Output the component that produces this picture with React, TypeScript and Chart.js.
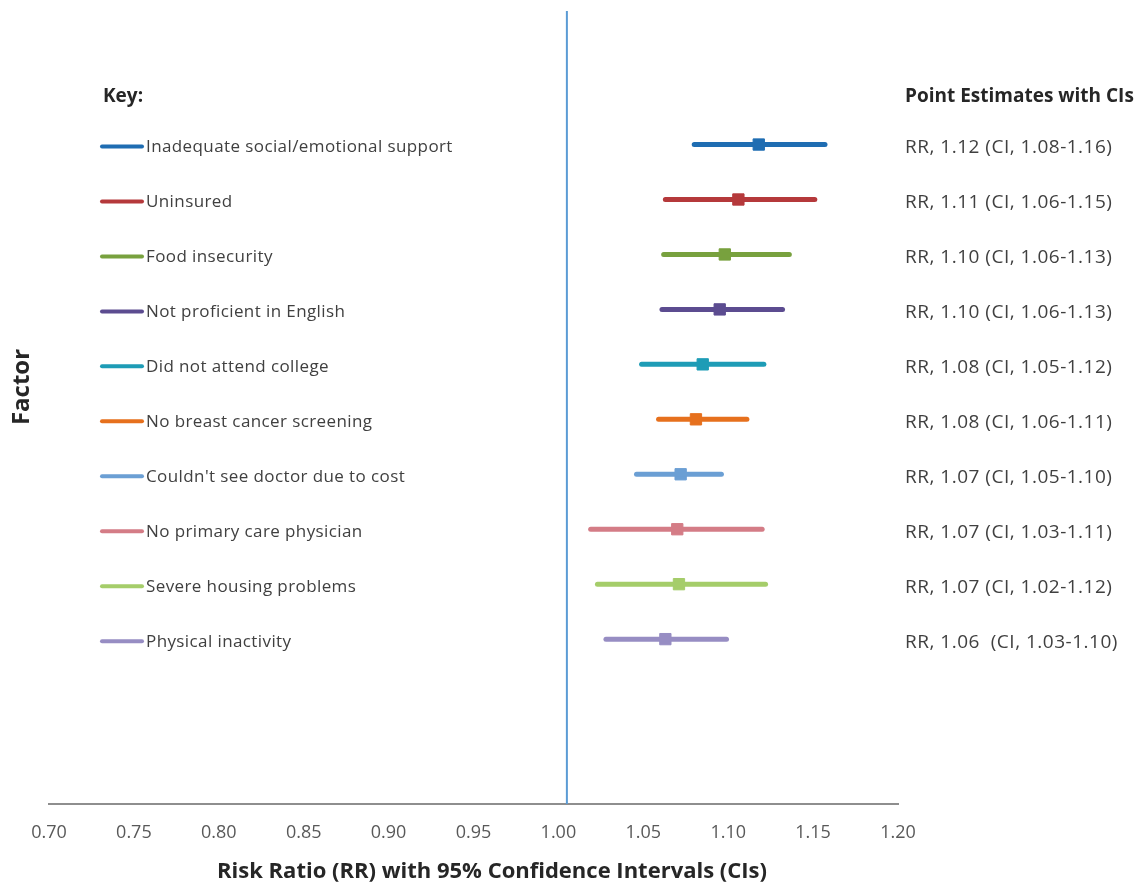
import React, { useEffect, useRef } from 'react';
import { Chart, registerables } from 'chart.js';

Chart.register(...registerables);

const factors = [
  'Inadequate social/emotional support',
  'Uninsured',
  'Food insecurity',
  'Not proficient in English',
  'Did not attend college',
  'No breast cancer screening',
  "Couldn't see doctor due to cost",
  'No primary care physician',
  'Severe housing problems',
  'Physical inactivity',
];
const rowPositions = [12, 11, 10, 9, 8, 7, 6, 5, 4, 3];
const estimates = [1.118, 1.106, 1.098, 1.095, 1.085, 1.081, 1.072, 1.070, 1.071, 1.063];
const lowerCI = [1.080, 1.063, 1.062, 1.061, 1.049, 1.059, 1.046, 1.019, 1.023, 1.028];
const upperCI = [1.157, 1.151, 1.136, 1.132, 1.121, 1.111, 1.096, 1.120, 1.122, 1.099];
const estimateLabels = [
  'RR, 1.12 (CI, 1.08-1.16)',
  'RR, 1.11 (CI, 1.06-1.15)',
  'RR, 1.10 (CI, 1.06-1.13)',
  'RR, 1.10 (CI, 1.06-1.13)',
  'RR, 1.08 (CI, 1.05-1.12)',
  'RR, 1.08 (CI, 1.06-1.11)',
  'RR, 1.07 (CI, 1.05-1.10)',
  'RR, 1.07 (CI, 1.03-1.11)',
  'RR, 1.07 (CI, 1.02-1.12)',
  'RR, 1.06  (CI, 1.03-1.10)',
];
const colors = [
  '#1F6DB2',
  '#B5393B',
  '#78A13E',
  '#5C4C90',
  '#1E9CB6',
  '#E6701D',
  '#6B9FD4',
  '#D47C86',
  '#A5CD6A',
  '#978DC3',
];
const xMin = 0.7;
const xMax = 1.2;
const xStep = 0.05;
const yMin = 0;
const yMax = 14.43;
const referenceValue = 1.005;
const xTitle = 'Risk Ratio (RR) with 95% Confidence Intervals (CIs)';
const yTitle = 'Factor';
const keyTitle = 'Key:';
const estimatesTitle = 'Point Estimates with CIs';

const FONT = "'Open Sans', 'DejaVu Sans', sans-serif";

export default function App() {
  const canvasRef = useRef<HTMLCanvasElement>(null);

  useEffect(() => {
    const canvas = canvasRef.current;
    if (!canvas) return;

    const textPlugin = {
      id: 'forestText',
      afterDraw(chart: any) {
        const c = chart.ctx;
        const ys = chart.scales.y;
        c.save();
        c.textBaseline = 'middle';
        c.textAlign = 'left';
        // Key title and right header
        c.fillStyle = '#262626';
        c.font = `bold 19px ${FONT}`;
        c.letterSpacing = '0px';
        c.fillText(keyTitle, 103, 97);
        c.fillText(estimatesTitle, 905, 97);
        // Key entries and estimate labels
        factors.forEach((f, i) => {
          const py = ys.getPixelForValue(rowPositions[i]);
          c.strokeStyle = colors[i];
          c.lineWidth = 4;
          c.lineCap = 'round';
          c.beginPath();
          c.moveTo(102, py + 2);
          c.lineTo(142, py + 2);
          c.stroke();
          c.fillStyle = '#404040';
          c.font = `17px ${FONT}`;
          c.letterSpacing = '0.4px';
          c.fillText(f, 146, py + 3);
          c.font = `19px ${FONT}`;
          c.letterSpacing = '0.5px';
          c.fillText(estimateLabels[i], 905, py + 3);
        });
        c.letterSpacing = '0px';
        // X title
        c.fillStyle = '#262626';
        c.font = `bold 22px ${FONT}`;
        c.textAlign = 'center';
        c.fillText(xTitle, 492, 872);
        // Y title
        c.save();
        c.translate(22, 387);
        c.rotate(-Math.PI / 2);
        c.font = `bold 24px ${FONT}`;
        c.fillText(yTitle, 0, 0);
        c.restore();
        c.restore();
      },
    };

    const datasets: any[] = [
      {
        label: 'Reference',
        data: [
          { x: referenceValue, y: yMin },
          { x: referenceValue, y: yMax },
        ],
        showLine: true,
        borderColor: '#5B9BD5',
        borderWidth: 2,
        pointRadius: 0,
      },
      ...factors.map((f, i) => ({
        label: f,
        data: [
          { x: lowerCI[i], y: rowPositions[i] },
          { x: upperCI[i], y: rowPositions[i] },
        ],
        showLine: true,
        borderColor: colors[i],
        borderWidth: 5,
        borderCapStyle: 'round',
        pointRadius: 0,
      })),
      {
        label: 'Point estimates',
        data: estimates.map((e, i) => ({ x: e, y: rowPositions[i] })),
        showLine: false,
        pointStyle: 'rect',
        pointRadius: 8,
        backgroundColor: colors,
        borderColor: colors,
        borderWidth: 1,
      },
    ];

    const chart = new Chart(canvas, {
      type: 'scatter',
      data: { datasets },
      options: {
        responsive: false,
        animation: false,
        layout: { padding: { left: 49, right: 241, top: 11, bottom: 0 } },
        plugins: {
          legend: { display: false },
          tooltip: { enabled: false },
        },
        scales: {
          x: {
            type: 'linear',
            min: xMin,
            max: xMax,
            grid: { display: false, drawTicks: false },
            border: { display: true, color: '#8E8E8E', width: 2 },
            ticks: {
              stepSize: xStep,
              autoSkip: false,
              maxRotation: 0,
              padding: 18,
              color: '#595959',
              font: { family: FONT, size: 18 },
              callback: (v: any) => Number(v).toFixed(2),
            },
            afterFit: (s: any) => {
              s.height = 82;
            },
          },
          y: {
            type: 'linear',
            min: yMin,
            max: yMax,
            display: false,
          },
        },
      },
      plugins: [textPlugin],
    });

    return () => chart.destroy();
  }, []);

  return (
    <div style={{ position: 'fixed', left: 0, top: 0, width: 1139, height: 886, background: '#fff' }}>
      <canvas ref={canvasRef} width={1139} height={886} />
    </div>
  );
}
